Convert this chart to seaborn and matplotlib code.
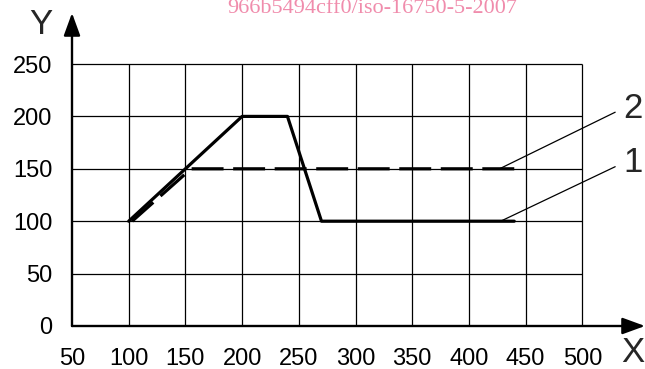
import matplotlib
matplotlib.use("Agg")
import matplotlib.pyplot as plt
import seaborn as sns
import pandas as pd

# Data
line1_x = [100, 200, 240, 270, 440]
line1_y = [100, 200, 200, 100, 100]
line2_x = [103, 155, 440]
line2_y = [100, 150, 150]
x_ticks = [50, 100, 150, 200, 250, 300, 350, 400, 450, 500]
y_ticks = [0, 50, 100, 150, 200, 250]
series_labels = ["1", "2"]

# line 2 is drawn from its right end so that the dash pattern ends cleanly there
df = pd.concat([
    pd.DataFrame({"x": line1_x, "y": line1_y, "series": series_labels[0]}),
    pd.DataFrame({"x": line2_x[::-1], "y": line2_y[::-1], "series": series_labels[1]}),
])

sns.set_theme(style="white")
plt.rcParams['font.family'] = ['Liberation Sans', 'DejaVu Sans']

fig = plt.figure(figsize=(6.45, 3.69), dpi=100)
ax = fig.add_axes([72/645, 1-326/369, 1-72/645, (326-13)/369])
ax.set_xlim(50, 50 + (645-72)/(56.7/50))
ax.set_ylim(0, (326-13)/1.048)

# grid
ax.hlines(y_ticks[1:], x_ticks[0], x_ticks[-1], color="black", lw=0.9, zorder=1)
ax.vlines(x_ticks[1:], y_ticks[0], y_ticks[-1], color="black", lw=0.9, zorder=1)

sns.lineplot(data=df, x="x", y="y", style="series", sort=False, estimator=None,
             dashes={"1": "", "2": (10.0, 3.0)}, color="black", lw=2.3,
             legend=False, ax=ax, zorder=3)

for s in ax.spines.values():
    s.set_visible(False)

# axes arrows
arrow = dict(arrowstyle="-|>,head_length=1.15,head_width=0.42", color="black", lw=1.7,
             shrinkA=0, shrinkB=0)
ax.annotate("", xy=(1.0, 0), xytext=(0, 0), xycoords="axes fraction",
            textcoords="axes fraction", arrowprops=arrow, annotation_clip=False)
ax.annotate("", xy=(0, 1.0), xytext=(0, 0), xycoords="axes fraction",
            textcoords="axes fraction", arrowprops=arrow, annotation_clip=False)

ax.set_xticks(x_ticks)
ax.set_xticklabels([str(v) for v in x_ticks])
ax.set_yticks(y_ticks)
ax.set_yticklabels([str(v) for v in y_ticks])
ax.tick_params(axis="x", length=0, pad=15.5, labelsize=17, colors="black")
ax.tick_params(axis="y", length=0, pad=14, labelsize=17, colors="black")
ax.set_xlabel("")
ax.set_ylabel("")

# axis letters
fig.text(41/645, 1-25/369, "Y", fontsize=25, ha="center", va="center")
fig.text(633/645, 1-352/369, "X", fontsize=25, ha="center", va="center")

# leaders and series labels
for lab, (x0, y0), (x1, y1), (tx, ty) in [
    ("2", (427, 150), (529, 204), (545, 208)),
    ("1", (428, 100), (529, 152), (545, 156)),
]:
    ax.plot([x0, x1], [y0, y1], color="black", lw=0.9, clip_on=False, zorder=2)
    ax.text(tx, ty, lab, fontsize=25, ha="center", va="center", clip_on=False)

# watermark
fig.text(372/645, 1-13/369, "966b5494cff0/iso-16750-5-2007", fontsize=16,
         family="Liberation Serif", color="#f08cac", ha="center", va="baseline")

fig.savefig("out.png", dpi=100)
